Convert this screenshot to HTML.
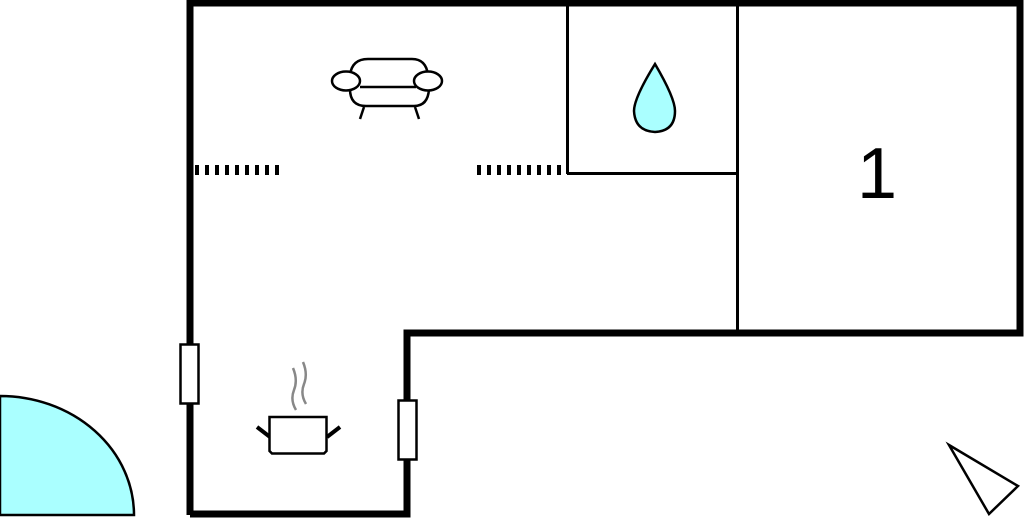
<!DOCTYPE html>
<html><head><style>html,body{margin:0;padding:0;background:#fff;}svg{display:block}.t{font-family:"Liberation Sans",Arial,sans-serif;}</style></head>
<body>
<svg width="1024" height="518" viewBox="0 0 1024 518" xmlns="http://www.w3.org/2000/svg">
<rect width="1024" height="518" fill="#fff"/>
<path d="M0,396 A134,119 0 0 1 134,515 L0,515 Z" fill="#aaffff" stroke="#000" stroke-width="2.5"/>
<path d="M190,515 L190,3 L1020,3 L1020,333 L407,333 L407,514 L190,514" fill="none" stroke="#000" stroke-width="7" stroke-linejoin="miter"/>
<line x1="737.5" y1="3" x2="737.5" y2="333" stroke="#000" stroke-width="3"/>
<line x1="567.5" y1="3" x2="567.5" y2="174" stroke="#000" stroke-width="3"/>
<line x1="567" y1="173.5" x2="737" y2="173.5" stroke="#000" stroke-width="3"/>
<line x1="195" y1="170" x2="283" y2="170" stroke="#000" stroke-width="10" stroke-dasharray="4,6"/>
<line x1="477" y1="170" x2="567" y2="170" stroke="#000" stroke-width="10" stroke-dasharray="4,6"/>
<rect x="180.5" y="344.5" width="18" height="59" fill="#fff" stroke="#000" stroke-width="2.5"/>
<rect x="398.5" y="400.5" width="18" height="59" fill="#fff" stroke="#000" stroke-width="2.5"/>
<g fill="none" stroke="#000" stroke-width="2.5">
<path d="M350,75 Q352,59 368,59 L412,59 Q426,59 428,75"/>
<path d="M350,89 Q350,106 366,106 L414,106 Q428,106 429,89"/>
<line x1="360" y1="87" x2="416" y2="87"/>
<ellipse cx="346" cy="81" rx="14" ry="9.5" fill="#fff"/>
<ellipse cx="428" cy="81" rx="14" ry="9.5" fill="#fff"/>
<line x1="364" y1="107" x2="360" y2="119"/>
<line x1="415" y1="107" x2="419" y2="119"/>
</g>
<path d="M655,64 Q634,98 634,111 Q635,131 655,132 Q675,131 675,111 Q675,98 655,64 Z" fill="#aaffff" stroke="#000" stroke-width="2.5"/>
<text class="t" x="877" y="198" font-size="72" text-anchor="middle" fill="#000">1</text>
<g>
<path d="M296,410 Q290,400 294,390 Q298,380 293,368" fill="none" stroke="#888" stroke-width="2.5"/>
<path d="M306,404 Q300,394 304,384 Q308,374 303,362" fill="none" stroke="#888" stroke-width="2.5"/>
<line x1="257" y1="427" x2="270" y2="437" stroke="#000" stroke-width="4"/>
<line x1="340" y1="427" x2="327" y2="437" stroke="#000" stroke-width="4"/>
<path d="M269.5,417 L326.5,417 L326.5,451 L324,453.5 L272,453.5 L269.5,451 Z" fill="#fff" stroke="#000" stroke-width="2.5"/>
</g>
<polygon points="949,445 1018,486 989,514" fill="none" stroke="#000" stroke-width="2.5" stroke-linejoin="miter"/>
</svg>
</body></html>
